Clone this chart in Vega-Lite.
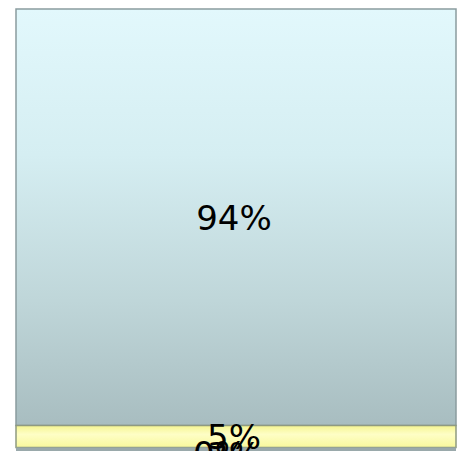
{
  "$schema": "https://vega.github.io/schema/vega-lite/v6.json",
  "autosize": "none",
  "padding": {"left": 16, "top": 9, "right": 2, "bottom": 0},
  "width": 440,
  "height": 443,
  "background": "white",
  "config": {"view": {"stroke": null}},
  "data": {
    "values": [
      {"col": "A", "segment": "S1", "order": 1, "value": 94, "label": "94%"},
      {"col": "A", "segment": "S2", "order": 2, "value": 5, "label": "5%"},
      {"col": "A", "segment": "S3", "order": 3, "value": 0.3, "label": "0%"},
      {"col": "A", "segment": "S4", "order": 4, "value": 0.7, "label": "3%"}
    ]
  },
  "transform": [
    {"stack": "value", "groupby": ["col"], "sort": [{"field": "order", "order": "ascending"}], "as": ["y0", "y1"]},
    {"calculate": "(datum.y0 + datum.y1) / 2", "as": "ymid"}
  ],
  "encoding": {
    "x": {"field": "col", "type": "nominal", "axis": null, "scale": {"paddingInner": 0, "paddingOuter": 0}}
  },
  "layer": [
    {
      "transform": [{"filter": "datum.segment == 'S1'"}],
      "mark": {"type": "bar", "stroke": "#8a9c9f", "strokeWidth": 1.5,
        "color": {"gradient": "linear", "x1": 0, "y1": 0, "x2": 0, "y2": 1,
          "stops": [{"offset": 0, "color": "#e2f8fc"}, {"offset": 0.35, "color": "#d5eef2"}, {"offset": 0.7, "color": "#bfd6d9"}, {"offset": 1, "color": "#a8bdc0"}]}},
      "encoding": {
        "y": {"field": "y0", "type": "quantitative", "axis": null, "scale": {"domain": [0, 100], "reverse": true, "nice": false, "zero": false}},
        "y2": {"field": "y1"}
      }
    },
    {
      "transform": [{"filter": "datum.segment == 'S2'"}],
      "mark": {"type": "bar", "stroke": "#8f9a80", "strokeWidth": 1.5,
        "color": {"gradient": "linear", "x1": 0, "y1": 0, "x2": 0, "y2": 1,
          "stops": [{"offset": 0, "color": "#f5f590"}, {"offset": 0.4, "color": "#fefec6"}, {"offset": 1, "color": "#f8f89c"}]}},
      "encoding": {
        "y": {"field": "y0", "type": "quantitative"},
        "y2": {"field": "y1"}
      }
    },
    {
      "transform": [{"filter": "datum.order >= 3"}],
      "mark": {"type": "bar", "color": "#9aa9ab"},
      "encoding": {
        "y": {"field": "y0", "type": "quantitative"},
        "y2": {"field": "y1"}
      }
    },
    {
      "transform": [{"filter": "datum.order <= 2"}],
      "mark": {"type": "text", "font": "DejaVu Sans", "fontSize": 34, "color": "#000000", "baseline": "middle", "align": "center", "dx": -2, "dy": 3},
      "encoding": {
        "y": {"field": "ymid", "type": "quantitative"},
        "text": {"field": "label", "type": "nominal"}
      }
    },
    {
      "transform": [{"filter": "datum.segment == 'S4'"}],
      "mark": {"type": "text", "font": "DejaVu Sans", "fontSize": 34, "color": "#000000", "baseline": "middle", "align": "center", "dx": -2, "dy": 7},
      "encoding": {
        "y": {"field": "ymid", "type": "quantitative"},
        "text": {"field": "label", "type": "nominal"}
      }
    },
    {
      "transform": [{"filter": "datum.segment == 'S3'"}],
      "mark": {"type": "text", "font": "DejaVu Sans", "fontSize": 34, "color": "#000000", "baseline": "middle", "align": "center", "dx": -16, "dy": 8},
      "encoding": {
        "y": {"field": "ymid", "type": "quantitative"},
        "text": {"field": "label", "type": "nominal"}
      }
    }
  ]
}
